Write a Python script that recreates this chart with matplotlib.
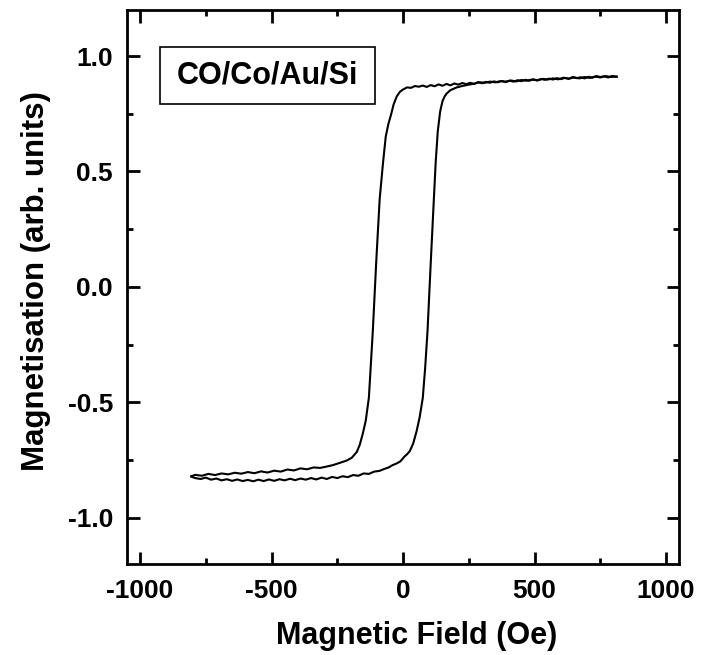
import matplotlib
matplotlib.use('Agg')
import matplotlib.pyplot as plt
from matplotlib.patches import Rectangle
from matplotlib.ticker import MultipleLocator, FormatStrFormatter

# Descending branch (field swept from + to -)
field_down = [812, 795, 780, 765, 750, 735, 720, 705, 690, 675, 660, 645, 630, 615,
              600, 585, 570, 555, 540, 525, 510, 495, 480, 465, 450, 435, 420, 405,
              390, 375, 360, 345, 330, 315, 300, 285, 270, 255, 240, 225, 210, 195,
              180, 165, 150, 135, 120, 105, 90, 75, 60, 45, 30, 15, 0, -12, -24, -36,
              -46, -56, -66, -76, -89, -102, -115, -130, -142, -153, -165, -176, -195,
              -214, -240, -267, -290, -315, -340, -365, -390, -415, -440, -465, -490,
              -515, -540, -565, -590, -615, -640, -665, -690, -715, -740, -765, -790, -805]
m_down = [0.910, 0.914, 0.907, 0.912, 0.909, 0.913, 0.906, 0.910, 0.903, 0.908, 0.904,
          0.909, 0.901, 0.905, 0.900, 0.904, 0.898, 0.902, 0.897, 0.900, 0.894, 0.899,
          0.893, 0.897, 0.891, 0.895, 0.889, 0.893, 0.887, 0.892, 0.886, 0.890, 0.884,
          0.888, 0.882, 0.887, 0.879, 0.884, 0.878, 0.883, 0.876, 0.881, 0.873, 0.879,
          0.871, 0.877, 0.869, 0.874, 0.866, 0.872, 0.867, 0.870, 0.862, 0.864, 0.855,
          0.845, 0.825, 0.790, 0.745, 0.705, 0.650, 0.540, 0.380, 0.110, -0.190, -0.480,
          -0.580, -0.635, -0.685, -0.715, -0.740, -0.752, -0.762, -0.772, -0.778, -0.784,
          -0.782, -0.790, -0.786, -0.795, -0.791, -0.800, -0.796, -0.804, -0.799, -0.807,
          -0.802, -0.809, -0.805, -0.812, -0.808, -0.815, -0.810, -0.818, -0.814, -0.820]

# Ascending branch (field swept from - to +)
field_up = [-805, -790, -770, -750, -730, -710, -690, -670, -650, -630, -610, -590, -570,
            -550, -530, -510, -490, -470, -450, -430, -410, -390, -370, -350, -330, -310,
            -290, -270, -250, -230, -210, -190, -170, -150, -130, -110, -90, -70, -55, -40,
            -25, -12, -6, 5, 15, 25, 38, 51, 63, 75, 84, 93, 105, 117, 124, 132, 141, 150,
            158, 166, 180, 204, 225, 250, 270, 291, 310, 330, 350, 370, 390, 410, 430, 450,
            470, 490, 510, 530, 550, 570, 590, 610, 630, 650, 670, 690, 710, 730, 750, 770,
            790, 812]
m_up = [-0.822, -0.828, -0.832, -0.826, -0.835, -0.830, -0.838, -0.833, -0.840, -0.834,
        -0.841, -0.836, -0.842, -0.835, -0.841, -0.834, -0.840, -0.833, -0.838, -0.831,
        -0.837, -0.830, -0.835, -0.828, -0.834, -0.826, -0.832, -0.823, -0.828, -0.820,
        -0.824, -0.815, -0.818, -0.808, -0.810, -0.800, -0.797, -0.788, -0.782, -0.772,
        -0.765, -0.757, -0.750, -0.735, -0.725, -0.712, -0.680, -0.627, -0.565, -0.480,
        -0.350, -0.190, 0.100, 0.380, 0.540, 0.675, 0.760, 0.805, 0.825, 0.838, 0.852,
        0.864, 0.870, 0.876, 0.880, 0.886, 0.884, 0.889, 0.886, 0.891, 0.889, 0.894,
        0.890, 0.896, 0.893, 0.898, 0.895, 0.901, 0.898, 0.903, 0.899, 0.906, 0.902,
        0.907, 0.903, 0.909, 0.905, 0.911, 0.907, 0.913, 0.909, 0.911]

sample_label = 'CO/Co/Au/Si'

plt.rcParams['font.family'] = ['Liberation Sans', 'DejaVu Sans']
plt.rcParams['font.weight'] = 'bold'
plt.rcParams['axes.unicode_minus'] = False

fig = plt.figure(figsize=(7.01, 6.55), dpi=100)
ax = fig.add_axes([0.181, 0.139, 0.788, 0.846])

ax.plot(field_down, m_down, color='black', lw=1.5)
ax.plot(field_up, m_up, color='black', lw=1.5)

ax.set_xlim(-1050, 1050)
ax.set_ylim(-1.2, 1.2)
ax.xaxis.set_major_locator(MultipleLocator(500))
ax.xaxis.set_minor_locator(MultipleLocator(250))
ax.yaxis.set_major_locator(MultipleLocator(0.5))
ax.yaxis.set_minor_locator(MultipleLocator(0.25))
ax.yaxis.set_major_formatter(FormatStrFormatter('%.1f'))

ax.tick_params(which='both', direction='in', top=True, right=True, width=2)
ax.tick_params(which='major', length=9, labelsize=19)
ax.tick_params(axis='x', which='major', pad=11)
ax.tick_params(axis='y', which='major', pad=10)
ax.tick_params(which='minor', length=4.5)
for s in ax.spines.values():
    s.set_linewidth(2)

ax.set_xlabel('Magnetic Field (Oe)', fontsize=22, fontweight='bold', labelpad=13)
ax.set_ylabel('Magnetisation (arb. units)', fontsize=22.5, fontweight='bold', labelpad=12)
ax.xaxis.label.set_x(0.524)
ax.yaxis.label.set_y(0.511)

ax.add_patch(Rectangle((0.06, 0.830), 0.389, 0.103, transform=ax.transAxes,
                       fill=False, lw=1.2, edgecolor='black'))
ax.text(0.2545, 0.882, sample_label, transform=ax.transAxes, ha='center', va='center',
        fontsize=22, fontweight='bold')

fig.savefig('out.png', dpi=100)
